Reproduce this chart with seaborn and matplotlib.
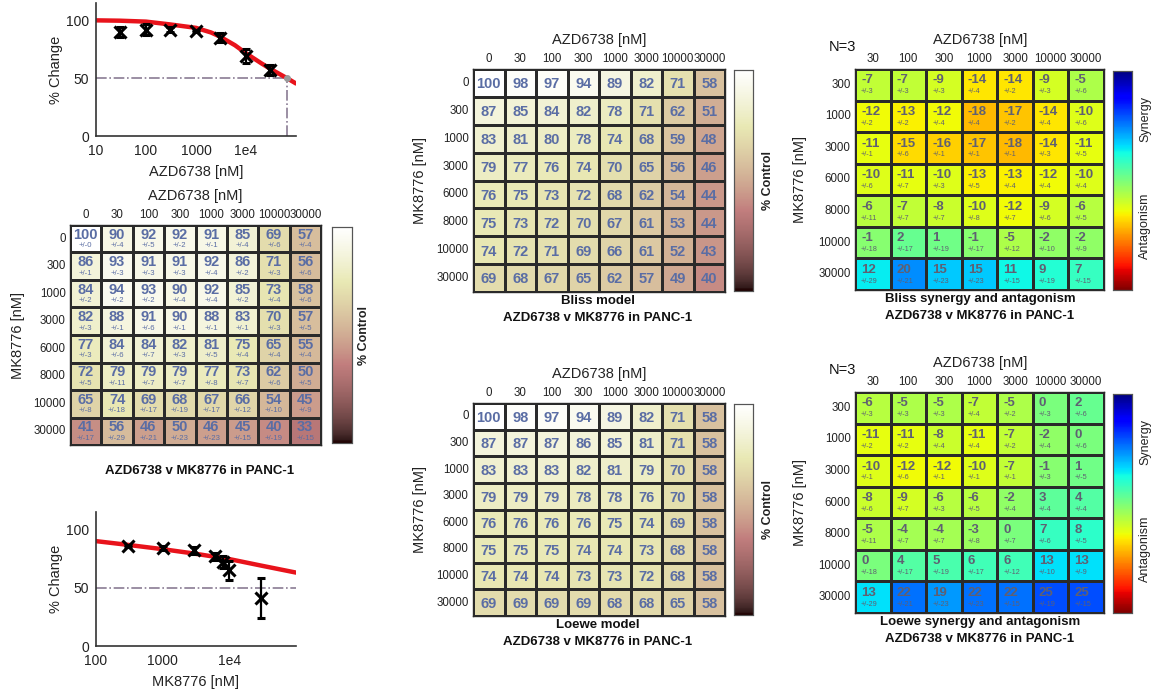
import numpy as np
import pandas as pd
import matplotlib
matplotlib.use("Agg")
import matplotlib.pyplot as plt
import seaborn as sns

sns.set_theme(style="white")
plt.rcParams["font.family"] = ["Liberation Sans", "DejaVu Sans"]

# ---------------- data ----------------
azd_conc = [0, 30, 100, 300, 1000, 3000, 10000, 30000]
mk_conc = [0, 300, 1000, 3000, 6000, 8000, 10000, 30000]
azd_labels = [str(c) for c in azd_conc]
mk_labels = [str(c) for c in mk_conc]

# measured viability (% control), rows = MK8776, columns = AZD6738
observed = [
    [100, 90, 92, 92, 91, 85, 69, 57],
    [86, 93, 91, 91, 92, 86, 71, 56],
    [84, 94, 93, 90, 92, 85, 73, 58],
    [82, 88, 91, 90, 88, 83, 70, 57],
    [77, 84, 84, 82, 81, 75, 65, 55],
    [72, 79, 79, 79, 77, 73, 62, 50],
    [65, 74, 69, 68, 67, 66, 54, 45],
    [41, 56, 46, 50, 46, 45, 40, 33],
]
observed_err = [
    [0, 4, 5, 2, 1, 4, 6, 4],
    [1, 3, 3, 3, 4, 2, 3, 6],
    [2, 2, 2, 4, 4, 2, 4, 6],
    [3, 1, 6, 1, 1, 1, 3, 5],
    [3, 6, 7, 3, 5, 4, 4, 4],
    [5, 11, 7, 7, 8, 7, 6, 5],
    [8, 18, 17, 19, 17, 12, 10, 9],
    [17, 29, 21, 23, 23, 15, 19, 15],
]

bliss_expected = [
    [100, 98, 97, 94, 89, 82, 71, 58],
    [87, 85, 84, 82, 78, 71, 62, 51],
    [83, 81, 80, 78, 74, 68, 59, 48],
    [79, 77, 76, 74, 70, 65, 56, 46],
    [76, 75, 73, 72, 68, 62, 54, 44],
    [75, 73, 72, 70, 67, 61, 53, 44],
    [74, 72, 71, 69, 66, 61, 52, 43],
    [69, 68, 67, 65, 62, 57, 49, 40],
]
loewe_expected = [
    [100, 98, 97, 94, 89, 82, 71, 58],
    [87, 87, 87, 86, 85, 81, 71, 58],
    [83, 83, 83, 82, 81, 79, 70, 58],
    [79, 79, 79, 78, 78, 76, 70, 58],
    [76, 76, 76, 76, 75, 74, 69, 58],
    [75, 75, 75, 74, 74, 73, 68, 58],
    [74, 74, 74, 73, 73, 72, 68, 58],
    [69, 69, 69, 69, 68, 68, 65, 58],
]

syn_cols = azd_labels[1:]
syn_rows = mk_labels[1:]
bliss_synergy = [
    [-7, -7, -9, -14, -14, -9, -5],
    [-12, -13, -12, -18, -17, -14, -10],
    [-11, -15, -16, -17, -18, -14, -11],
    [-10, -11, -10, -13, -13, -12, -10],
    [-6, -7, -8, -10, -12, -9, -6],
    [-1, 2, 1, -1, -5, -2, -2],
    [12, 20, 15, 15, 11, 9, 7],
]
loewe_synergy = [
    [-6, -5, -5, -7, -5, 0, 2],
    [-11, -11, -8, -11, -7, -2, 0],
    [-10, -12, -12, -10, -7, -1, 1],
    [-8, -9, -6, -6, -2, 3, 4],
    [-5, -4, -4, -3, 0, 7, 8],
    [0, 4, 5, 6, 6, 13, 13],
    [13, 22, 19, 22, 22, 25, 25],
]
synergy_err = [row[1:] for row in observed_err[1:]]

# single-agent responses
azd_dose = [30, 100, 300, 1000, 3000, 10000, 30000]
azd_resp = [90, 92, 92, 91, 85, 69, 57]
azd_resp_err = [4, 5, 2, 1, 4, 6, 4]
azd_fit_x = [10, 30, 100, 300, 1000, 2000, 3000, 6000, 10000, 20000, 30000, 66000, 100000]
azd_fit_y = [100, 99.7, 98.9, 96.5, 93.5, 89.5, 86, 78.5, 71.5, 63, 58.3, 50, 45.4]
azd_ic50 = 66000

mk_dose = [300, 1000, 3000, 6000, 8000, 10000, 30000]
mk_resp = [86, 84, 82, 77, 72, 65, 41]
mk_resp_err = [1, 2, 3, 3, 5, 8, 17]
mk_fit_x = [100, 300, 1000, 3000, 10000, 30000, 100000]
mk_fit_y = [90, 86.8, 83.1, 79.3, 74.6, 69, 63]

# ---------------- layout helpers ----------------
W, H = 1152, 697
fig = plt.figure(figsize=(W / 100, H / 100), dpi=100)


def px_axes(x0, y0, x1, y1):
    return fig.add_axes([x0 / W, 1 - y1 / H, (x1 - x0) / W, (y1 - y0) / H])


def ftext(x, y, s, **kw):
    kw.setdefault("ha", "center")
    kw.setdefault("va", "center")
    fig.text(x / W, 1 - y / H, s, **kw)


NUM_COLOR = "#5a6da4"
SYN_COLOR = "#5f6072"
GRID_COLOR = "#2a2a2a"


def grid_heatmap(rect, cbar_rect, values, rows, cols, cmap, vmin, vmax):
    ax = px_axes(*rect)
    cax = px_axes(*cbar_rect)
    df = pd.DataFrame(values, index=rows, columns=cols)
    sns.heatmap(df, ax=ax, cmap=cmap, vmin=vmin, vmax=vmax, cbar_ax=cax,
                linewidths=0.8, linecolor=GRID_COLOR, annot=False)
    ax.xaxis.tick_top()
    ax.tick_params(axis="both", length=0, labelsize=8.3, pad=3, colors="#222222")
    ax.set_xticklabels(cols, rotation=0)
    ax.set_yticklabels(rows, rotation=0)
    ax.set_xlabel("")
    ax.set_ylabel("")
    for sp in ax.spines.values():
        sp.set_visible(True)
        sp.set_color(GRID_COLOR)
        sp.set_linewidth(1.0)
    cax.set_yticks([])
    cax.tick_params(length=0)
    for sp in cax.spines.values():
        sp.set_visible(True)
        sp.set_color("#555555")
        sp.set_linewidth(0.8)
    return ax, cax


# ---------------- single-agent curves ----------------
def curve_panel(rect, dose, resp, err, fit_x, fit_y, xlim, xticks, xticklabels, xlabel, ic50=None):
    ax = px_axes(*rect)
    sns.lineplot(x=fit_x, y=fit_y, ax=ax, color="#e8131b", linewidth=3.2, sort=False, zorder=2)
    if ic50 is None:
        ax.plot(xlim, [50, 50], linestyle="-.", color="#8a7b94", linewidth=1.2, zorder=1)
    else:
        ax.plot([xlim[0], ic50], [50, 50], linestyle="-.", color="#8a7b94", linewidth=1.2, zorder=1)
        ax.plot([ic50, ic50], [0, 50], linestyle="-.", color="#8a7b94", linewidth=1.2, zorder=1)
        ax.plot([ic50], [50], "o", color="#9a9a9a", markersize=4, zorder=3)
    ax.errorbar(dose, resp, yerr=err, fmt="x", color="black", markersize=9,
                markeredgewidth=2.2, elinewidth=1.6, capsize=3, capthick=1.6, zorder=4)
    ax.set_xscale("log")
    ax.set_xlim(*xlim)
    ax.set_ylim(0, 115)
    ax.set_xticks(xticks)
    ax.set_xticklabels(xticklabels)
    ax.minorticks_off()
    ax.set_yticks([0, 50, 100])
    ax.tick_params(axis="both", direction="in", length=3, labelsize=10, colors="#222222")
    ax.tick_params(axis="x", pad=6)
    ax.tick_params(axis="y", pad=5)
    for side in ("top", "right"):
        ax.spines[side].set_visible(False)
    for side in ("left", "bottom"):
        ax.spines[side].set_color("#333333")
        ax.spines[side].set_linewidth(1.2)
    ax.set_xlabel(xlabel, fontsize=10.5, color="#222222", labelpad=5)
    ax.set_ylabel("% Change", fontsize=10.5, color="#222222", labelpad=2)
    ax.set_facecolor("white")
    return ax


curve_panel((96, 3, 296, 136), azd_dose, azd_resp, azd_resp_err, azd_fit_x, azd_fit_y,
            (10, 100000), [10, 100, 1000, 10000], ["10", "100", "1000", "1e4"],
            "AZD6738 [nM]", ic50=azd_ic50)
curve_panel((96, 512, 296, 646), mk_dose, mk_resp, mk_resp_err, mk_fit_x, mk_fit_y,
            (100, 100000), [100, 1000, 10000], ["100", "1000", "1e4"], "MK8776 [nM]")

# ---------------- observed combination matrix ----------------
ax, cax = grid_heatmap((70, 225, 321, 445), (332, 227, 352, 443), observed,
                       mk_labels, azd_labels, "pink", 0, 100)
for i, row in enumerate(observed):
    for j, v in enumerate(row):
        ax.text(j + 0.5, i + 0.36, str(v), ha="center", va="center", fontsize=10.5,
                fontweight="bold", color=NUM_COLOR)
        ax.text(j + 0.5, i + 0.76, "+/-" + str(observed_err[i][j]), ha="center", va="center",
                fontsize=5.6, color=NUM_COLOR)
ftext(195, 196, "AZD6738 [nM]", fontsize=10.5, color="#222222")
ftext(18, 335, "MK8776 [nM]", fontsize=10.5, color="#222222", rotation=90)
ftext(364, 335, "% Control", fontsize=9, fontweight="bold", color="#222222", rotation=90)
ftext(200, 471, "AZD6738 v MK8776 in PANC-1", fontsize=9.5, fontweight="bold", color="#111111")

# ---------------- Bliss / Loewe expected matrices ----------------
for values, top, bottom, name in ((bliss_expected, 69, 292, "Bliss model"),
                                  (loewe_expected, 403, 616, "Loewe model")):
    ax, cax = grid_heatmap((473, top, 725, bottom), (734, top + 1, 753, bottom - 1), values,
                           mk_labels, azd_labels, "pink", 0, 100)
    for i, row in enumerate(values):
        for j, v in enumerate(row):
            ax.text(j + 0.5, i + 0.55, str(v), ha="center", va="center", fontsize=10.5,
                    fontweight="bold", color=NUM_COLOR)
    ftext(599, top - 29, "AZD6738 [nM]", fontsize=10.5, color="#222222")
    ftext(420, (top + bottom) / 2, "MK8776 [nM]", fontsize=10.5, color="#222222", rotation=90)
    ftext(768, (top + bottom) / 2, "% Control", fontsize=9, fontweight="bold",
          color="#222222", rotation=90)
    ftext(598, bottom + 9, name, fontsize=9.5, fontweight="bold", color="#111111")
    ftext(598, bottom + 26, "AZD6738 v MK8776 in PANC-1", fontsize=9.5, fontweight="bold",
          color="#111111")

# ---------------- synergy matrices ----------------
for values, top, bottom, name in ((bliss_synergy, 69, 290, "Bliss synergy and antagonism"),
                                  (loewe_synergy, 392, 613, "Loewe synergy and antagonism")):
    ax, cax = grid_heatmap((855, top, 1104, bottom), (1113, top + 2, 1132, bottom), values,
                           syn_rows, syn_cols, "jet_r", -42, 42)
    for i, row in enumerate(values):
        for j, v in enumerate(row):
            ax.text(j + 0.17, i + 0.36, str(v), ha="left", va="center", fontsize=9.5,
                    fontweight="bold", color=SYN_COLOR)
            ax.text(j + 0.17, i + 0.72, "+/-" + str(synergy_err[i][j]), ha="left",
                    va="center", fontsize=5.2, color=SYN_COLOR)
    ftext(980, top - 29, "AZD6738 [nM]", fontsize=10.5, color="#222222")
    ftext(842, top - 22, "N=3", fontsize=10.5, color="#111111")
    ftext(800, (top + bottom) / 2, "MK8776 [nM]", fontsize=10.5, color="#222222", rotation=90)
    ftext(1145, top + 50, "Synergy", fontsize=9, color="#222222", rotation=90)
    ftext(1145, top + 157, "Antagonism", fontsize=9, color="#222222", rotation=90)
    ftext(980, bottom + 9, name, fontsize=9.5, fontweight="bold", color="#111111")
    ftext(980, bottom + 26, "AZD6738 v MK8776 in PANC-1", fontsize=9.5, fontweight="bold",
          color="#111111")

fig.savefig("out.png", dpi=100, facecolor="white")
